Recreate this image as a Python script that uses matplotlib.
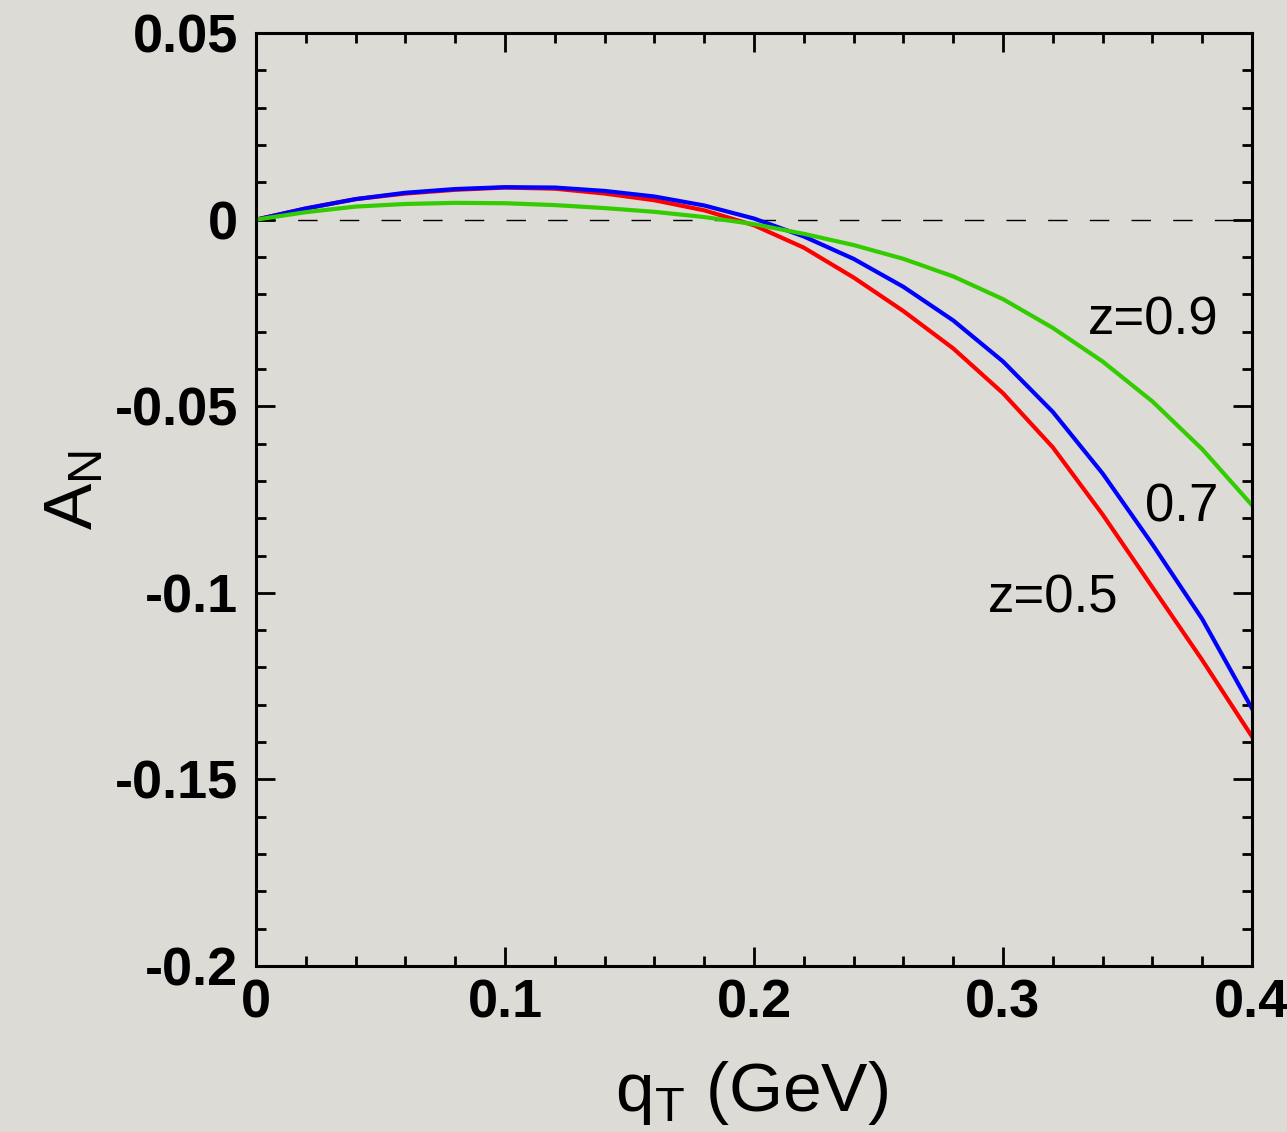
import matplotlib
matplotlib.use('Agg')
import matplotlib.pyplot as plt
from matplotlib.ticker import MultipleLocator

plt.rcParams['font.family'] = ['Liberation Sans', 'DejaVu Sans']
plt.rcParams['mathtext.fontset'] = 'custom'
plt.rcParams['mathtext.rm'] = 'Liberation Sans'
plt.rcParams['mathtext.it'] = 'Liberation Sans'

# q_T grid (GeV) and A_N curves
qt = [0.0, 0.02, 0.04, 0.06, 0.08, 0.10, 0.12, 0.14, 0.16, 0.18, 0.20,
      0.22, 0.24, 0.26, 0.28, 0.30, 0.32, 0.34, 0.36, 0.38, 0.40]
an_z05 = [0.0, 0.003, 0.0055, 0.007, 0.008, 0.0086, 0.0083, 0.007, 0.0052, 0.0025, -0.0015,
          -0.0075, -0.0155, -0.0245, -0.0345, -0.0465, -0.0610, -0.0790, -0.0985, -0.118, -0.1385]
an_z07 = [0.0, 0.003, 0.0055, 0.0072, 0.0082, 0.0087, 0.0086, 0.0077, 0.0062, 0.0038, 0.0003,
          -0.0045, -0.0105, -0.018, -0.027, -0.038, -0.0515, -0.0680, -0.087, -0.107, -0.131]
an_z09 = [0.0, 0.002, 0.0035, 0.0042, 0.0045, 0.0044, 0.0039, 0.0031, 0.0021, 0.0007, -0.0012,
          -0.0038, -0.0068, -0.0105, -0.0152, -0.0213, -0.0290, -0.0380, -0.0487, -0.0615, -0.0765]

x_ticks = [0, 0.1, 0.2, 0.3, 0.4]
x_labels = ['0', '0.1', '0.2', '0.3', '0.4']
y_ticks = [-0.2, -0.15, -0.1, -0.05, 0, 0.05]
y_labels = ['-0.2', '-0.15', '-0.1', '-0.05', '0', '0.05']

bg = '#dddbd6'
fig = plt.figure(figsize=(12.87, 11.32), dpi=100, facecolor=bg)
ax = fig.add_axes([0.1989, 0.1466, 0.7739, 0.8242])
ax.set_facecolor(bg)

ax.plot(qt, an_z05, color='#ff0000', lw=3)
ax.plot(qt, an_z07, color='#0000ff', lw=3)
ax.plot(qt, an_z09, color='#33cc00', lw=3)
ax.axhline(0, color='black', lw=1.0, dashes=(14, 16), zorder=0)

ax.text(0.334, -0.0308, 'z=0.9', fontsize=38)
ax.text(0.357, -0.0809, '0.7', fontsize=38)
ax.text(0.294, -0.1053, 'z=0.5', fontsize=38)

ax.set_xlim(0, 0.4)
ax.set_ylim(-0.2, 0.05)
ax.set_xticks(x_ticks)
ax.set_xticklabels(x_labels)
ax.set_yticks(y_ticks)
ax.set_yticklabels(y_labels)
ax.xaxis.set_minor_locator(MultipleLocator(0.02))
ax.yaxis.set_minor_locator(MultipleLocator(0.01))
ax.tick_params(which='both', direction='in', top=True, right=True, width=2)
ax.tick_params(which='major', length=14, labelsize=39)
ax.tick_params(axis='y', which='major', pad=13)
ax.tick_params(axis='x', which='major', pad=9)
ax.tick_params(which='minor', length=7)
for lab in ax.get_xticklabels() + ax.get_yticklabels():
    lab.set_fontweight('bold')
for s in ax.spines.values():
    s.set_linewidth(2.2)

ax.set_xlabel(r'q$_\mathregular{T}$ (GeV)', fontsize=50)
ax.set_ylabel(r'A$_\mathregular{N}$', fontsize=50)
ax.xaxis.set_label_coords(0.498, -0.1)
ax.yaxis.set_label_coords(-0.15, 0.51)

plt.savefig('out.png', dpi=100, facecolor=bg)
